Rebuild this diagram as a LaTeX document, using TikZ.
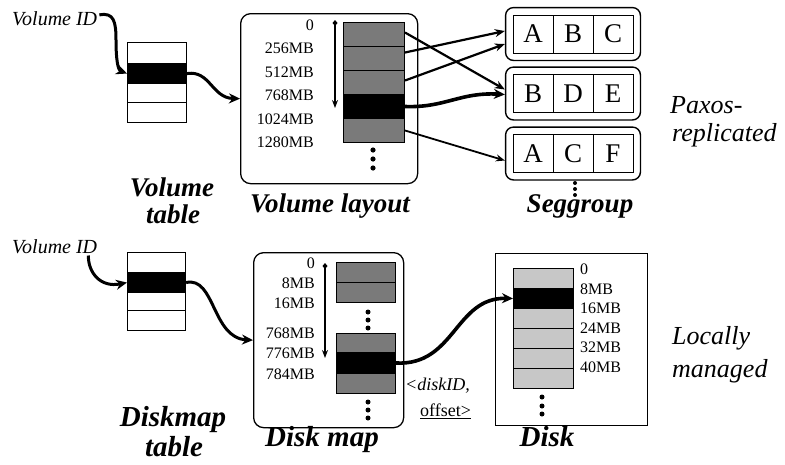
\documentclass[tikz,border=0pt]{standalone}
\usepackage{fontspec}
\setmainfont{Liberation Serif}
\usetikzlibrary{arrows.meta,fit}
\definecolor{segdark}{gray}{0.48}
\definecolor{seglight}{gray}{0.78}
\begin{document}
\begin{tikzpicture}[x=1pt,y=-1pt,
  lbl/.style={font=\fontsize{16}{16}\selectfont, inner sep=0pt},
  head/.style={font=\fontsize{27}{27}\selectfont\bfseries\itshape, inner sep=0pt},
  headb/.style={font=\fontsize{29}{29}\selectfont\bfseries\itshape, inner sep=0pt},
  side/.style={font=\fontsize{26}{26}\selectfont\itshape, inner sep=0pt},
  idtext/.style={font=\fontsize{20}{20}\selectfont\itshape, inner sep=0pt},
  note/.style={font=\fontsize{18}{18}\selectfont, inner sep=0pt},
  tblrow/.style={draw, line width=1.1pt, minimum width=59pt, inner sep=0pt, anchor=north west},
  segrow/.style={draw, line width=1pt, inner sep=0pt, anchor=north west},
  cell/.style={draw, line width=0.9pt, minimum width=40pt, minimum height=38pt, inner sep=0pt,
               font=\fontsize{27}{27}\selectfont},
  group/.style={draw, line width=1.4pt, rounded corners=8pt, inner sep=7pt},
  panel/.style={draw, line width=1.3pt, rounded corners=10pt, anchor=north west, inner sep=0pt},
  fat/.style={line width=3pt, -{Stealth[length=11pt,width=10pt]}},
  mid/.style={line width=2.2pt, -{Stealth[length=10pt,width=8pt]}},
  span/.style={line width=1.4pt, {Diamond[length=6pt,width=5pt]}-{Stealth[length=8pt,width=6pt]}},
  dot/.style={fill=black}
]
\useasboundingbox (0,0) rectangle (785,464);

% ---------------- upper part: volume table -> volume layout -> seggroups
\node[idtext, anchor=base west] (vid) at (12,25) {Volume ID};

\node[tblrow, minimum height=21pt] (vt1) at (127,42) {};
\node[tblrow, minimum height=20pt, fill=black] (vt2) at (127,63) {};
\node[tblrow, minimum height=19pt] (vt3) at (127,83) {};
\node[tblrow, minimum height=20pt] (vt4) at (127,102) {};

\node[panel, minimum width=177pt, minimum height=170pt] (vl) at (240,13) {};

\foreach \t/\y [count=\i] in {0/25,256MB/48.5,512MB/72,768MB/95.5,1024MB/119,1280MB/142.5}
  \node[lbl, anchor=east] (vlab\i) at (314,\y) {\t};

\coordinate (vspanA) at (335,20);
\coordinate (vspanB) at (335,108);
\draw[span] (vspanA) -- (vspanB);

\foreach \i/\y/\c in {1/22/segdark,2/46/segdark,3/70/segdark,4/94/black,5/118/segdark}
  \node[segrow, fill=\c, minimum width=61pt, minimum height=24pt] (vs\i) at (343,\y) {};
\foreach \y in {150,159,168} \fill[dot] (373,\y) circle (2.6pt);

% seggroups
\foreach \g/\y/\a/\b/\c in {1/34/A/B/C,2/93.5/B/D/E,3/153.5/A/C/F}{
  \node[cell] (g\g a) at (533,\y) {\a};
  \node[cell] (g\g b) at (573,\y) {\b};
  \node[cell] (g\g c) at (613,\y) {\c};
  \node[group, fit=(g\g a)(g\g c)] (g\g) {};
}
\foreach \y in {183,189,195} \fill[dot] (575,\y) circle (2pt);

% pointers from the layout into the seggroups
\draw[mid] ([yshift=2pt]vs1.east) -- ([yshift=4pt]g2.west);
\draw[mid] ([yshift=6pt]vs2.east) -- ([yshift=3pt]g1.west);
\draw[mid] ([yshift=2pt]vs3.east) -- ([yshift=-10pt]g1.west);
\draw[fat, line width=3.6pt] (vs4.east) .. controls (445,108) and (460,92) .. ([yshift=-1pt]g2.west);
\draw[line width=1.8pt, -{Stealth[length=9pt,width=7pt]}] (vs5.east) -- ([yshift=-7pt]g3.west);

% lookup arrows
\draw[fat] ([shift={(2pt,-4pt)}]vid.north east) .. controls (114,12) and (116,22) .. (116,40)
  .. controls (116,60) and (118,70) .. (vt2.west);
\draw[fat] (vt2.east) .. controls (210,70) and (212,98) .. (vl.west);

\node[head, anchor=base] (hvt1) at (172,196) {Volume};
\node[head, anchor=base] (hvt2) at (173,223) {table};
\node[head, anchor=base] (hvl) at (330,212) {Volume layout};
\node[head, anchor=base] (hsg) at (580,212) {Seggroup};
\node[side, anchor=base west] (px1) at (670,113) {Paxos-};
\node[side, anchor=base west] (px2) at (672,141) {replicated};

% ---------------- lower part: diskmap table -> disk map -> disk
\node[idtext, anchor=base west] (vid2) at (12,253) {Volume ID};

\node[tblrow, minimum width=58pt, minimum height=20pt] (dt1) at (127,252) {};
\node[tblrow, minimum width=58pt, minimum height=20pt, fill=black] (dt2) at (127,272) {};
\node[tblrow, minimum width=58pt, minimum height=18pt] (dt3) at (127,292) {};
\node[tblrow, minimum width=58pt, minimum height=20pt] (dt4) at (127,310) {};

\node[panel, minimum width=150pt, minimum height=175pt] (dm) at (253,252) {};

\foreach \t/\y [count=\i] in {0/263,8MB/283,16MB/303,768MB/333,776MB/353,784MB/374}
  \node[lbl, anchor=east] (dlab\i) at (315,\y) {\t};

\coordinate (dspanA) at (325,263);
\coordinate (dspanB) at (325,358);
\draw[span] (dspanA) -- (dspanB);

\node[segrow, fill=segdark, minimum width=59pt, minimum height=20pt] (dm1) at (336,262) {};
\node[segrow, fill=segdark, minimum width=59pt, minimum height=20pt] (dm2) at (336,282) {};
\foreach \y in {312,320,328} \fill[dot] (368,\y) circle (2.5pt);
\node[segrow, fill=segdark, minimum width=59pt, minimum height=19pt] (dm4) at (336,333) {};
\node[segrow, fill=black, minimum width=59pt, minimum height=21pt] (dm5) at (336,352) {};
\node[segrow, fill=segdark, minimum width=59pt, minimum height=20pt] (dm6) at (336,373) {};
\foreach \y in {402,410,418} \fill[dot] (368,\y) circle (2.5pt);

\node[note, anchor=west, font=\fontsize{18}{18}\selectfont\itshape] (did) at (405,386) {<diskID,};
\node[note, anchor=west] (doff) at (420,411) {\underline{offset>}};

\node[draw, line width=1.3pt, anchor=north west, minimum width=152pt, minimum height=172pt, inner sep=0pt] (dk) at (495,253) {};
\foreach \i/\y/\c in {1/268/seglight,2/288/black,3/308/seglight,4/328/seglight,5/348/seglight,6/368/seglight}
  \node[segrow, fill=\c, minimum width=60pt, minimum height=20pt] (dk\i) at (513,\y) {};
\foreach \t/\y [count=\i] in {0/269,8MB/289,16MB/308,24MB/328,32MB/347,40MB/367}
  \node[lbl, anchor=west] (klab\i) at (580,\y) {\t};
\foreach \y in {397,406,414} \fill[dot] (542,\y) circle (2.5pt);

\draw[fat] ([shift={(-9pt,-2pt)}]vid2.south east) .. controls (88,272) and (100,288) .. (dt2.west);
\draw[fat] (dt2.east) .. controls (215,276) and (212,338) .. (dm.west);
\draw[fat, line width=3.6pt] (dm5.east) .. controls (455,366) and (455,297) .. (dk2.west);

\node[headb, anchor=base] (hdt1) at (173,426) {Diskmap};
\node[headb, anchor=base] (hdt2) at (174,456) {table};
\node[headb, anchor=base] (hdm) at (322,446) {Disk map};
\node[headb, anchor=base] (hdk) at (547,446) {Disk};
\node[side, anchor=base west] (lm1) at (672,344) {Locally};
\node[side, anchor=base west] (lm2) at (672,377) {managed};
\end{tikzpicture}
\end{document}
